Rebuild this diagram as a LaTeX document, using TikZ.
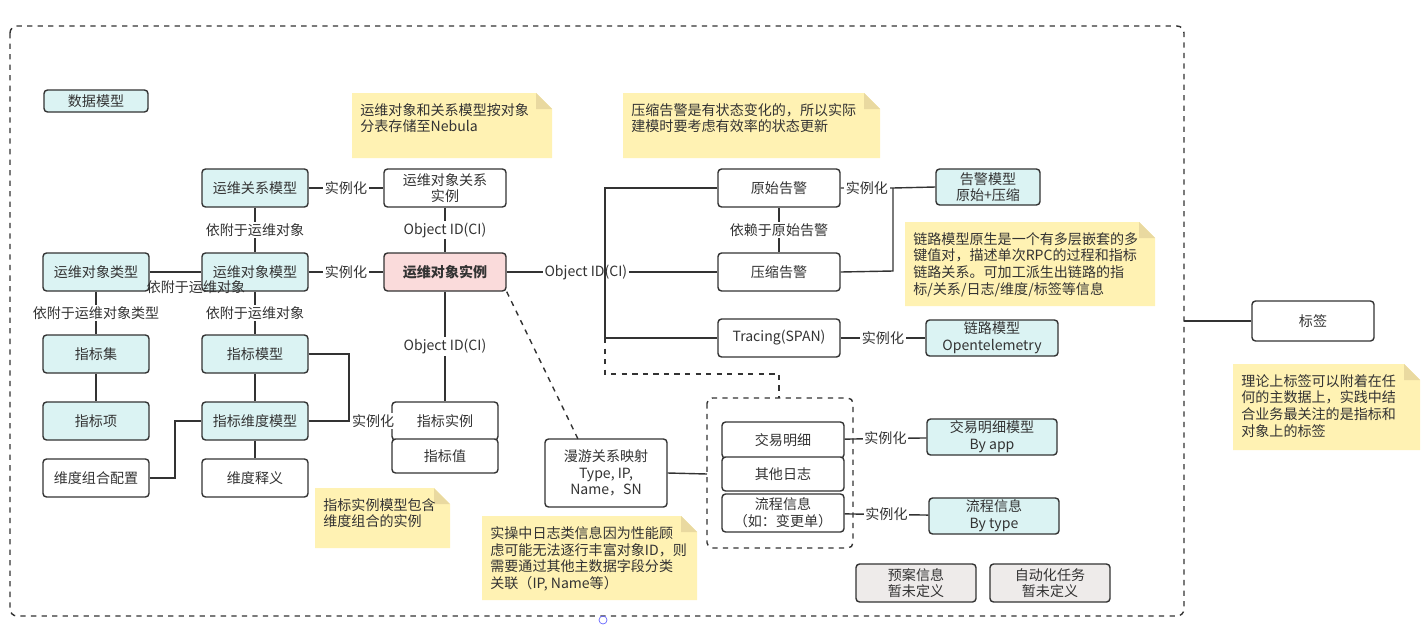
\documentclass[tikz,border=0pt]{standalone}
\usepackage{fontspec}
\setmainfont{Noto Sans CJK SC}
\usetikzlibrary{positioning}
\definecolor{ink}{HTML}{333333}
\definecolor{teal}{HTML}{DBF3F3}
\definecolor{pink}{HTML}{FADBDB}
\definecolor{grey}{HTML}{EEEBEA}
\definecolor{memo}{HTML}{FFF2B3}
\definecolor{memodark}{HTML}{E9D9A0}
\newcommand{\bx}[7]{\node[box,#6,minimum width={#4*0.02cm},minimum height={#5*0.02cm}] (#1) at (#2,#3) {#7};}
\newcommand{\memo}[6]{%
  \fill[memo] (#2,#3) -- (#4-16,#3) -- (#4,#3+16) -- (#4,#5) -- (#2,#5) -- cycle;
  \fill[memodark] (#4-16,#3) -- (#4,#3+16) -- (#4-16,#3+16) -- cycle;
  \node[memotext,anchor=north west] (#1) at (#2+8,#3+10) {#6};}
\begin{document}
\begin{tikzpicture}[x=0.02cm,y=-0.02cm,font=\footnotesize,text=ink,
    box/.style={draw=ink,thick,rounded corners=2pt,align=center,inner sep=1pt,fill=white},
    model/.style={fill=teal},
    inst/.style={fill=white},
    core/.style={fill=pink,font=\footnotesize\bfseries},
    todo/.style={fill=grey},
    link/.style={draw=ink,thick},
    lbl/.style={fill=white,inner sep=1pt,text=ink},
    memotext/.style={align=left,inner sep=0pt,text=ink,font=\footnotesize}]
\useasboundingbox (0,0) rectangle (1422,636);

% frame
\draw[ink,thick,dashed,rounded corners=4pt] (10,26) rectangle (1184,616);
\draw[blue!60,thin] (603,620) circle (4);

% notes
\memo{nebula}{352}{93}{552}{158}{运维对象和关系模型按对象\\分表存储至Nebula}
\memo{alarm}{623}{93}{880}{158}{压缩告警是有状态变化的，所以实际\\建模时要考虑有效率的状态更新}
\memo{trace}{905}{222}{1155}{306}{链路模型原生是一个有多层嵌套的多\\键值对，描述单次RPC的过程和指标\\链路关系。可加工派生出链路的指\\标/关系/日志/维度/标签等信息}
\memo{tagnote}{1233}{364}{1420}{450}{理论上标签可以附着在任\\何的主数据上，实践中结\\合业务最关注的是指标和\\对象上的标签}
\memo{dimnote}{315}{488}{450}{548}{指标实例模型包含\\维度组合的实例}
\memo{lognote}{482}{516}{697}{600}{实操中日志类信息因为性能顾\\虑可能无法逐行丰富对象ID，则\\需要通过其他主数据字段分类\\关联（IP, Name等）}

% boxes
\bx{datamodel}{96}{101}{104}{22}{model}{数据模型}
\bx{relmodel}{255}{188}{106}{38}{model}{运维关系模型}
\bx{relinst}{445}{188}{122}{38}{inst}{运维对象关系\\实例}
\bx{objtype}{96}{272}{106}{38}{model}{运维对象类型}
\bx{objmodel}{255}{272}{106}{38}{model}{运维对象模型}
\bx{objinst}{445}{272}{122}{38}{core}{运维对象实例}
\bx{metset}{96}{354}{106}{38}{model}{指标集}
\bx{metitem}{96}{421}{106}{38}{model}{指标项}
\bx{dimcfg}{96}{478}{106}{38}{inst}{维度组合配置}
\bx{metmodel}{255}{354}{106}{38}{model}{指标模型}
\bx{dimmodel}{255}{421}{106}{38}{model}{指标维度模型}
\bx{dimdef}{255}{478}{106}{38}{inst}{维度释义}
\bx{metinst}{445}{421}{106}{38}{inst}{指标实例}
\bx{metval}{445}{456}{106}{34}{inst}{指标值}
\bx{rawalarm}{779}{188}{122}{38}{inst}{原始告警}
\bx{zipalarm}{779}{272}{122}{38}{inst}{压缩告警}
\bx{span}{779}{338}{122}{38}{inst}{Tracing(SPAN)}
\bx{alarmmodel}{988}{187}{104}{36}{model}{告警模型\\原始+压缩}
\bx{tracemodel}{992}{338}{132}{36}{model}{链路模型\\Opentelemetry}
\bx{tag}{1313}{321}{122}{40}{inst}{标签}
\bx{roam}{606}{473}{122}{68}{inst}{漫游关系映射\\Type, IP,\\Name，SN}
\bx{trade}{783}{440}{122}{36}{inst}{交易明细}
\bx{otherlog}{783}{474}{122}{34}{inst}{其他日志}
\bx{flow}{783}{513}{122}{38}{inst}{流程信息\\（如：变更单）}
\bx{trademodel}{992}{437}{130}{36}{model}{交易明细模型\\By app}
\bx{flowmodel}{994}{516}{130}{36}{model}{流程信息\\By type}
\bx{plan}{916}{583}{120}{38}{todo}{预案信息\\暂未定义}
\bx{auto}{1050}{583}{120}{38}{todo}{自动化任务\\暂未定义}
\coordinate (logbox) at (707,474);
\coordinate (roamtop) at (578,439);
\draw[ink,thick,dashed,rounded corners=3pt] (707,398) rectangle (853,548);

% connectors
\path[link] (relmodel) -- node[lbl] {实例化} (relinst);
\path[link] (objmodel) -- node[lbl] {实例化} (objinst);
\path[link] (relinst) -- node[lbl] {Object ID(CI)} (objinst);
\path[link] (relmodel) -- node[lbl] {依附于运维对象} (objmodel);
\path[link] (objtype) -- (objmodel);
\node[text=ink] at (196,287) {依附于运维对象};
\path[link] (objtype) -- node[lbl] {依附于运维对象类型} (metset);
\path[link] (metset) -- (metitem);
\path[link] (objmodel) -- node[lbl] {依附于运维对象} (metmodel);
\path[link] (metmodel) -- (dimmodel);
\path[link] (dimmodel) -- (dimdef);
\path[link] (dimcfg.east) -- (175,478) |- (dimmodel.west);
\path[link] (metmodel.east) -- (349,354) -- (349,421);
\path[link] (dimmodel) -- node[lbl,pos=0.78] {实例化} (metinst);
\path[link] (objinst) -- node[lbl] {Object ID(CI)} (metinst);
\path[draw=ink,very thick] (objinst.east) -- (553,272);
\path[link] (553,272) -- node[lbl,pos=0.2] {Object ID(CI)} (zipalarm.west);
\path[link] (rawalarm.west) -- (605,188) -- (605,338) -- (span.west);
\path[draw=ink,thick,dashed] (605,338) -- (605,374) -- (779,374) -- (779,398);
\path[link] (rawalarm) -- node[lbl] {依赖于原始告警} (zipalarm);
\path[link] (rawalarm.east) -- node[lbl] {实例化} (893,188) -- (alarmmodel.west);
\path[link] (zipalarm.east) -- (893,271) -- (893,188);
\path[link] (span) -- node[lbl] {实例化} (tracemodel);
\path[link] (tag.west) -- (1184,321);
\path[draw=ink,thick,dashed] (objinst.south east) -- (roamtop);
\path[link] (roam.east) -- (logbox);
\path[link] (trade) -- node[lbl] {实例化} (trademodel);
\path[link] (flow) -- node[lbl] {实例化} (flowmodel);
\end{tikzpicture}
\end{document}
